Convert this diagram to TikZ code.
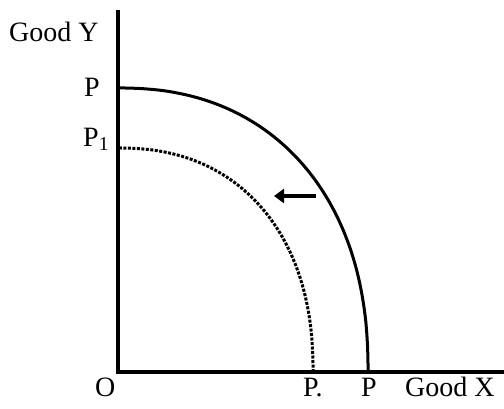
\documentclass[tikz,border=0pt]{standalone}
\usepackage{fontspec}
\setmainfont{Liberation Serif}
\usetikzlibrary{arrows.meta}
\tikzset{
  axlabel/.style={font=\fontsize{28bp}{30bp}\selectfont,inner sep=0pt,anchor=base west},
  axisline/.style={line width=4bp,black,line cap=rect},
  ppfcurve/.style={line width=3bp,black},
  ppfshift/.style={line width=3bp,black,dash pattern=on 3bp off 1.5bp},
  shiftarrow/.style={-{Triangle[length=10bp,width=14bp]},line width=4.5bp,black},
}

\begin{document}
\begin{tikzpicture}[x=1bp,y=-1bp]
  \useasboundingbox (0,0) rectangle (504,408);
  \coordinate (yTop) at (118,12);
  \coordinate (orig) at (118,372);
  \coordinate (xEnd) at (504,372);
  \coordinate (arrTail) at (316,196);
  \coordinate (arrHead) at (274,196);
  \draw[axisline] (yTop) -- (orig) -- (xEnd);
  % outer frontier
  \draw[ppfcurve] plot[domain=0:90,samples=91,smooth]
    ({118+250*pow(max(cos(\x),0.00001),0.889)},{372-284*pow(max(sin(\x),0.00001),0.889)});
  % shifted frontier
  \draw[ppfshift] plot[domain=0:90,samples=91,smooth]
    ({118+195*pow(max(cos(\x),0.00001),0.889)},{372-224*pow(max(sin(\x),0.00001),0.889)});
  \draw[shiftarrow] (arrTail) -- (arrHead);
  \node[axlabel] (goodY) at (9,41) {Good Y};
  \node[axlabel] (pTop) at (84,96) {P};
  \node[axlabel] (pOne) at (83,146) {P\textsubscript{1}};
  \node[axlabel] (orgO) at (95,396) {O};
  \node[axlabel] (pDot) at (303,396) {P.};
  \node[axlabel] (pBot) at (361,396) {P};
  \node[axlabel] (goodX) at (405,396) {Good X};
\end{tikzpicture}
\end{document}
